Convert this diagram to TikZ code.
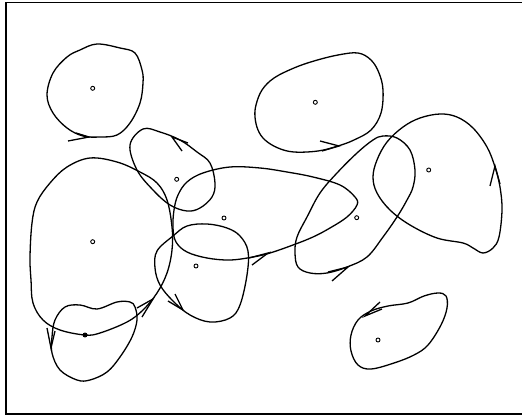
\documentclass[tikz,border=0pt]{standalone}
\begin{document}
\begin{tikzpicture}[x=1pt,y=-1pt,
  loop/.style={line width=1.3pt,line join=round},
  barb/.style={line width=1.3pt,line join=miter},
  ctr/.style={circle,draw,line width=0.9pt,inner sep=0pt,minimum size=4pt}]
\useasboundingbox (0,0) rectangle (522,417);
\clip (0,0) rectangle (522,417);
\draw[line width=1.8pt] (6,2.5) rectangle (540,414);
% centre marks
\node[ctr] (cA) at (92.7,88.3) {};
\node[ctr] (cB) at (176.7,179.3) {};
\node[ctr] (cC) at (92.7,241.7) {};
\node[ctr,fill=black] (cD) at (85,335) {};
\node[ctr] (cE) at (224,218) {};
\node[ctr] (cF) at (196,266) {};
\node[ctr] (cG) at (315.3,102.3) {};
\node[ctr] (cH) at (356.7,217.7) {};
\node[ctr] (cI) at (428.7,170) {};
\node[ctr] (cJ) at (378,340) {};
% A
\draw[loop] plot[smooth cycle,tension=0.6] coordinates {(47,95) (53,73) (67,57) (80,50) (97,44) (120,48) (135,53) (142,70) (143,83) (140,103) (130,123) (117,135) (100,137) (83,136) (67,128) (53,113)};
\draw[barb] (68,141) -- (89,137) -- (76,133);
% B
\draw[loop] plot[smooth cycle,tension=0.6] coordinates {(143,129) (130,145) (137,170) (153,190) (170,205) (187,211) (200,208) (212,197) (215,183) (210,163) (197,152) (180,140) (160,132)};
\draw[barb] (188,143) -- (172,137) -- (182,151);
% C
\draw[loop] plot[smooth cycle,tension=0.6] coordinates {(90,158) (67,167) (50,183) (37,202) (32,223) (30,257) (31,280) (33,303) (43,320) (60,330) (85,335) (100,333) (127,322) (143,310) (157,293) (167,273) (172,250) (172,227) (167,200) (157,183) (140,172) (117,162)};
\draw[barb] (142,317) -- (153,299) -- (137,308);
% D
\draw[loop] plot[smooth cycle,tension=0.6] coordinates {(65,307) (80,305) (97,309) (117,302) (130,302) (135,307) (137,320) (132,337) (120,357) (107,372) (90,380) (77,380) (60,370) (52,353) (52,337) (55,320)};
\draw[barb] (47,328) -- (51,348) -- (55,331);
% E
\draw[loop] plot[smooth cycle,tension=0.6] coordinates {(187,182) (203,173) (230,167) (260,168) (287,172) (313,177) (340,185) (355,197) (357,205) (347,217) (330,228) (313,237) (293,245) (270,253) (253,257) (230,260) (207,258) (187,252) (176,242) (173,228) (174,210) (178,195)};
\draw[barb] (249,258) -- (268,253) -- (252,265);
% F
\draw[loop] plot[smooth cycle,tension=0.6] coordinates {(173,236) (187,226) (207,224) (227,228) (240,236) (248,251) (247,275) (240,305) (230,318) (210,322) (190,315) (173,301) (160,285) (155,268) (157,251)};
\draw[barb] (168,301) -- (183,310) -- (175,294);
% G
\draw[loop] plot[smooth cycle,tension=0.6] coordinates {(274,78) (294,68) (314,61) (338,55) (358,53) (371,60) (379,73) (383,90) (381,113) (371,130) (354,140) (338,146) (318,151) (294,152) (278,148) (265,140) (258,130) (255,117) (256,105) (262,90)};
\draw[barb] (320,141) -- (339,146) -- (322,151);
% H
\draw[loop] plot[smooth cycle,tension=0.6] coordinates {(383,136) (397,138) (410,150) (415,170) (413,187) (407,200) (397,217) (383,237) (367,257) (347,267) (327,273) (310,273) (298,267) (295,253) (297,237) (307,217) (320,193) (337,173) (357,153) (373,140)};
\draw[barb] (328,272) -- (348,267) -- (332,281);
% I
\draw[loop] plot[smooth cycle,tension=0.6] coordinates {(440,114) (420,118) (403,127) (387,142) (377,160) (373,177) (377,193) (390,210) (410,225) (437,238) (463,243) (473,248) (483,253) (493,248) (499,237) (502,210) (500,187) (495,167) (487,147) (473,128) (457,117)};
\draw[barb] (490,186) -- (495,166) -- (500,184);
% J
\draw[loop] plot[smooth cycle,tension=0.6] coordinates {(358,320) (371,311) (388,306) (408,303) (424,296) (438,293) (446,296) (447,308) (441,325) (428,345) (414,355) (394,363) (371,369) (358,365) (351,351) (351,335)};
\draw[barb] (380,302) -- (365,316) -- (382,309);
\end{tikzpicture}
\end{document}
